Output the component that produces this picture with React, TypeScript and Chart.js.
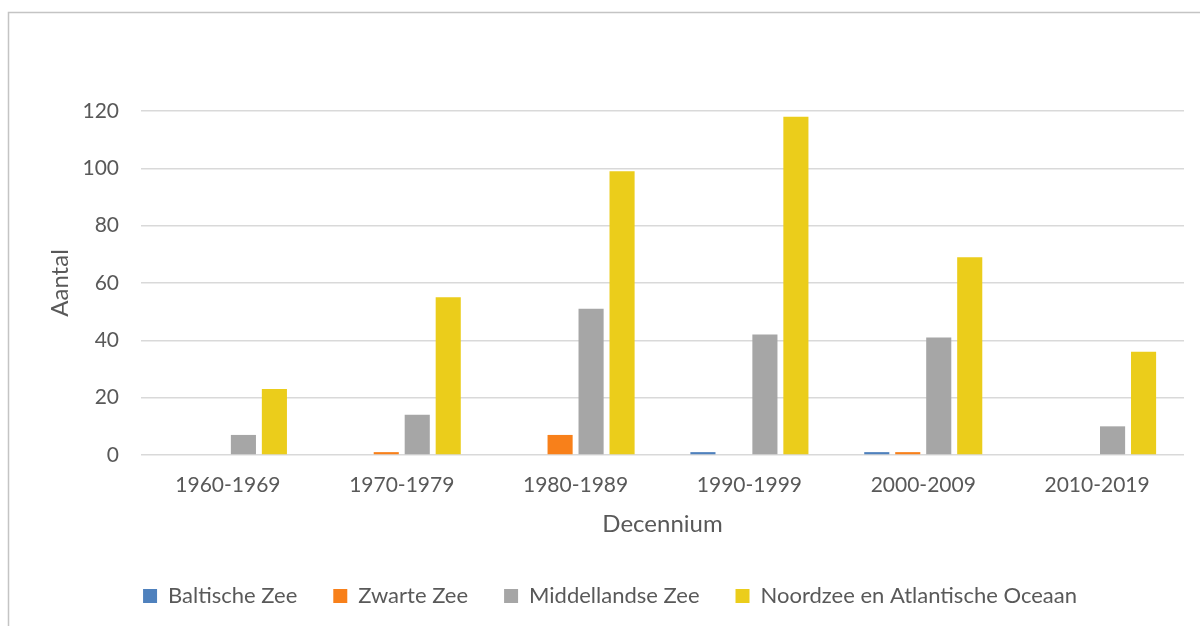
import React, { useEffect, useRef } from "react";
import { Chart, registerables } from "chart.js";

Chart.register(...registerables);

const categories = ["1960-1969", "1970-1979", "1980-1989", "1990-1999", "2000-2009", "2010-2019"];
const baltischeZee = [0, 0, 0, 1, 1, 0];
const zwarteZee = [0, 1, 7, 0, 1, 0];
const middellandseZee = [7, 14, 51, 42, 41, 10];
const noordzeeAtlantisch = [23, 55, 99, 118, 69, 36];
const yTicks = [0, 20, 40, 60, 80, 100, 120];

const FONT = "Lato";
const TEXT = "#595959";

const frame = {
  id: "frame",
  beforeDraw(chart: any) {
    const ctx = chart.ctx;
    ctx.save();
    ctx.strokeStyle = "#C4C4C4";
    ctx.lineWidth = 1.5;
    ctx.beginPath();
    ctx.moveTo(8.5, chart.height);
    ctx.lineTo(8.5, 12.5);
    ctx.lineTo(chart.width, 12.5);
    ctx.stroke();
    ctx.restore();
  },
};

export default function App() {
  const ref = useRef<HTMLCanvasElement | null>(null);
  useEffect(() => {
    if (!ref.current) return;
    const mk = (label: string, data: number[], color: string) => ({
      label,
      data,
      backgroundColor: color,
      borderWidth: 0,
      categoryPercentage: 0.713,
      barPercentage: 0.81,
    });
    const chart = new Chart(ref.current, {
      type: "bar",
      data: {
        labels: categories,
        datasets: [
          mk("Baltische Zee", baltischeZee, "#4F81BD"),
          mk("Zwarte Zee", zwarteZee, "#F8801A"),
          mk("Middellandse Zee", middellandseZee, "#A6A6A6"),
          mk("Noordzee en Atlantische Oceaan", noordzeeAtlantisch, "#EBCD1B"),
        ],
      },
      plugins: [frame],
      options: {
        animation: false,
        responsive: true,
        maintainAspectRatio: false,
        layout: { padding: { left: 36, right: 16, top: 111, bottom: 9 } },
        plugins: {
          tooltip: { enabled: false },
          legend: {
            position: "bottom",
            labels: {
              boxWidth: 14,
              boxHeight: 14,
              padding: 36,
              color: TEXT,
              font: { family: FONT, size: 22 },
            },
          },
        },
        scales: {
          x: {
            grid: { display: false, drawTicks: false },
            border: { display: false },
            ticks: { color: TEXT, font: { family: FONT, size: 21 }, padding: 18 },
            title: {
              display: true,
              text: "Decennium",
              color: TEXT,
              font: { family: FONT, size: 24 },
              padding: { top: 0, bottom: 10.6 },
            },
            afterFit: (s: any) => {
              s.height = 94;
            },
          },
          y: {
            min: 0,
            max: 120,
            afterBuildTicks: (s: any) => {
              s.ticks = yTicks.map((v) => ({ value: v }));
            },
            grid: { color: "#D9D9D9", lineWidth: 1.5, drawTicks: false },
            border: { display: false },
            ticks: { color: TEXT, font: { family: FONT, size: 21 }, padding: 22 },
            title: {
              display: true,
              text: "Aantal",
              color: TEXT,
              font: { family: FONT, size: 24 },
              padding: { top: 9.6, bottom: 0 },
            },
            afterFit: (s: any) => {
              s.width = 141 - 36;
            },
          },
        },
      },
    });
    return () => chart.destroy();
  }, []);
  return (
    <div style={{ position: "fixed", left: 0, top: 0, width: 1200, height: 626, overflow: "hidden", background: "#fff" }}>
      <canvas ref={ref} />
    </div>
  );
}
